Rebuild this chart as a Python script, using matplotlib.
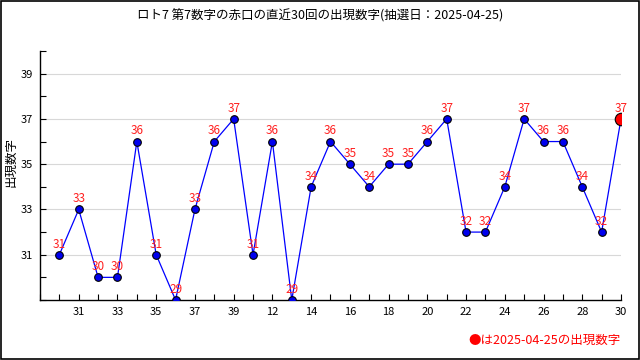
import matplotlib
matplotlib.use('Agg')
import numpy as np
import matplotlib.pyplot as plt
from matplotlib.ticker import MultipleLocator

plt.rcParams['font.family'] = ['Noto Sans CJK JP', 'DejaVu Sans']

# 直近30回の第7数字
draws = list(range(1, 31))
values = [31, 33, 30, 30, 36, 31, 29, 33, 36, 37,
          31, 36, 29, 34, 36, 35, 34, 35, 35, 36,
          37, 32, 32, 34, 37, 36, 36, 34, 32, 37]
tick_pos = list(range(2, 31, 2))
tick_labels = ['31', '33', '35', '37', '39', '12', '14', '16', '18', '20',
               '22', '24', '26', '28', '30']
title = 'ロト7 第7数字の赤口の直近30回の出現数字(抽選日：2025-04-25)'
note = '●は2025-04-25の出現数字'

fig = plt.figure(figsize=(6.4, 3.6), dpi=100)
ax = fig.add_axes([0.0625, 0.1667, 0.9078, 0.6916])

ax.plot(draws, values, color='blue', lw=0.9, zorder=2)
ax.plot(draws[:-1], values[:-1], 'o', color='#0000ee', mec='black', mew=0.8, ms=5.5, zorder=3)
ax.plot(draws[-1:], values[-1:], 'o', color='red', mec='black', mew=0.8, ms=9, zorder=3)
for x, v in zip(draws, values):
    ax.annotate(str(v), (x, v), xytext=(0, 3), textcoords='offset points',
                ha='center', va='bottom', color='#ff2020', fontsize=8.5)

ax.set_xlim(0, 30)
ax.set_ylim(29, 40)
ax.set_xticks(tick_pos)
ax.set_xticklabels(tick_labels, fontsize=8)
ax.xaxis.set_minor_locator(MultipleLocator(1))
ax.set_yticks([31, 33, 35, 37, 39])
ax.set_yticklabels(['31', '33', '35', '37', '39'], fontsize=8)
ax.yaxis.set_minor_locator(MultipleLocator(1))
ax.tick_params(which='both', direction='in', length=4, width=0.8, pad=5)
ax.grid(axis='y', which='major', color='#d8d8d8', lw=0.8, zorder=0)
for s in ['top', 'right']:
    ax.spines[s].set_visible(False)
for s in ['left', 'bottom']:
    ax.spines[s].set_linewidth(1.0)

fig.text(11 / 640, 0.55, '出現数字', rotation=90, ha='center', va='center', fontsize=9)
fig.text(0.5, 0.975, title, ha='center', va='top', fontsize=9)
fig.text(0.97, 0.055, note, ha='right', va='center', color='red', fontsize=9)

fig.patches.append(plt.Rectangle((0.001, 0.002), 0.997, 0.995, transform=fig.transFigure,
                                 fill=False, edgecolor='black', lw=1.2))

fig.savefig('out.png', dpi=100)
